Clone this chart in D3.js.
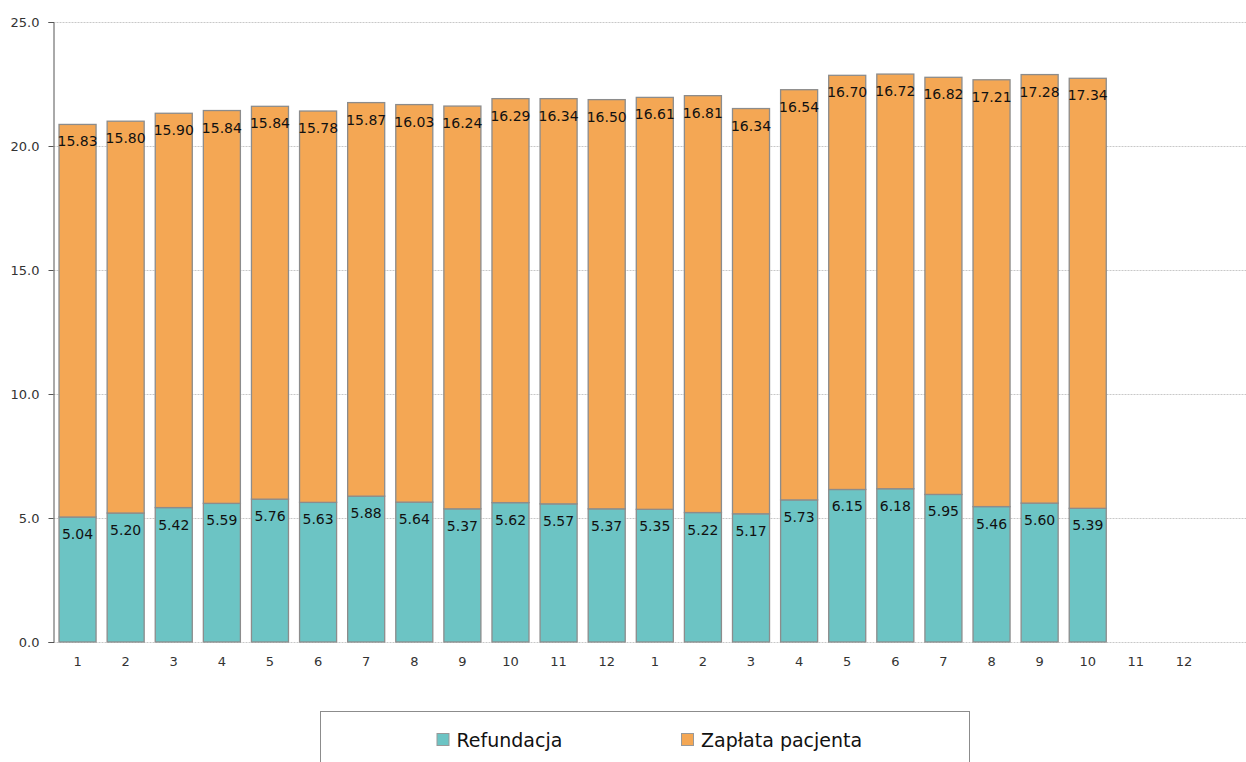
<!DOCTYPE html>
<html><head><meta charset="utf-8">
<script src="https://cdn.jsdelivr.net/npm/d3@7/dist/d3.min.js"></script>
<style>body{margin:0;background:#fff}svg{display:block}</style>
</head><body><svg id="c" width="1246" height="762"></svg>
<script>
const months = ["1","2","3","4","5","6","7","8","9","10","11","12","1","2","3","4","5","6","7","8","9","10","11","12"];
const refundacja = [5.04,5.20,5.42,5.59,5.76,5.63,5.88,5.64,5.37,5.62,5.57,5.37,5.35,5.22,5.17,5.73,6.15,6.18,5.95,5.46,5.60,5.39];
const zaplata = [15.83,15.80,15.90,15.84,15.84,15.78,15.87,16.03,16.24,16.29,16.34,16.50,16.61,16.81,16.34,16.54,16.70,16.72,16.82,17.21,17.28,17.34];
const yTicks = [0,5,10,15,20,25];
const seriesNames = ["Refundacja","Zapłata pacjenta"];
const colors = ["#6cc4c4","#f4a754"];

const svg = d3.select("#c");
const slots = months.map((m,i)=>i);
const x = d3.scaleBand().domain(slots).range([53.5,1208]).paddingInner(0.23).paddingOuter(0.115);
const y = d3.scaleLinear().domain([0,25]).range([642,22]);

// gridlines
svg.append("g").selectAll("line").data(yTicks).join("line")
  .attr("x1",53.5).attr("x2",1246).attr("y1",d=>y(d)+0.5).attr("y2",d=>y(d)+0.5)
  .attr("stroke","#c8c8c8").attr("stroke-width",1).attr("stroke-dasharray","2,1");

// y axis
const ya = svg.append("g").attr("transform","translate(53.5,0)")
  .call(d3.axisLeft(y).tickValues(yTicks).tickFormat(d3.format(".1f")).tickSize(5).tickPadding(9));
ya.select(".domain").attr("stroke","#555");
ya.selectAll(".tick line").attr("stroke","#555");
ya.selectAll("text").attr("font-family","DejaVu Sans").attr("font-size",13).attr("fill","#333");

// x axis labels
const xa = svg.append("g").attr("transform","translate(0,642)")
  .call(d3.axisBottom(x).tickFormat(i=>months[i]).tickSize(0).tickPadding(15));
xa.select(".domain").remove();
xa.selectAll("text").attr("font-family","DejaVu Sans").attr("font-size",13).attr("fill","#333");

const data = refundacja.map((r,i)=>({i, r, z: zaplata[i]}));
const stack = d3.stack().keys(["r","z"])(data);

const g = svg.append("g");
stack.forEach((s,k)=>{
  g.selectAll(null).data(s).join("rect")
    .attr("x",d=>x(d.data.i)).attr("width",x.bandwidth())
    .attr("y",d=>y(d[1])).attr("height",d=>y(d[0])-y(d[1]))
    .attr("fill",colors[k]).attr("stroke","#8c8c8c").attr("stroke-width",1.3);
});
stack.forEach((s,k)=>{
  g.selectAll(null).data(s).join("text")
    .attr("x",d=>x(d.data.i)+x.bandwidth()/2).attr("y",d=>y(d[1])+22)
    .attr("text-anchor","middle").attr("font-family","DejaVu Sans").attr("font-size",14)
    .attr("fill","#111")
    .text(d=>(d[1]-d[0]).toFixed(2));
});

// legend
const lg = svg.append("g");
lg.append("rect").attr("x",320.5).attr("y",711.5).attr("width",649).attr("height",70)
  .attr("fill","#fff").attr("stroke","#8c8c8c");
const lx = [437, 681.5];
seriesNames.forEach((n,k)=>{
  lg.append("rect").attr("x",lx[k]).attr("y",733.5).attr("width",12).attr("height",12)
    .attr("fill",colors[k]).attr("stroke","#999");
  lg.append("text").attr("x",lx[k]+19.5).attr("y",747).attr("font-family","DejaVu Sans")
    .attr("font-size",19).attr("fill","#111").text(n);
});
</script></body></html>
